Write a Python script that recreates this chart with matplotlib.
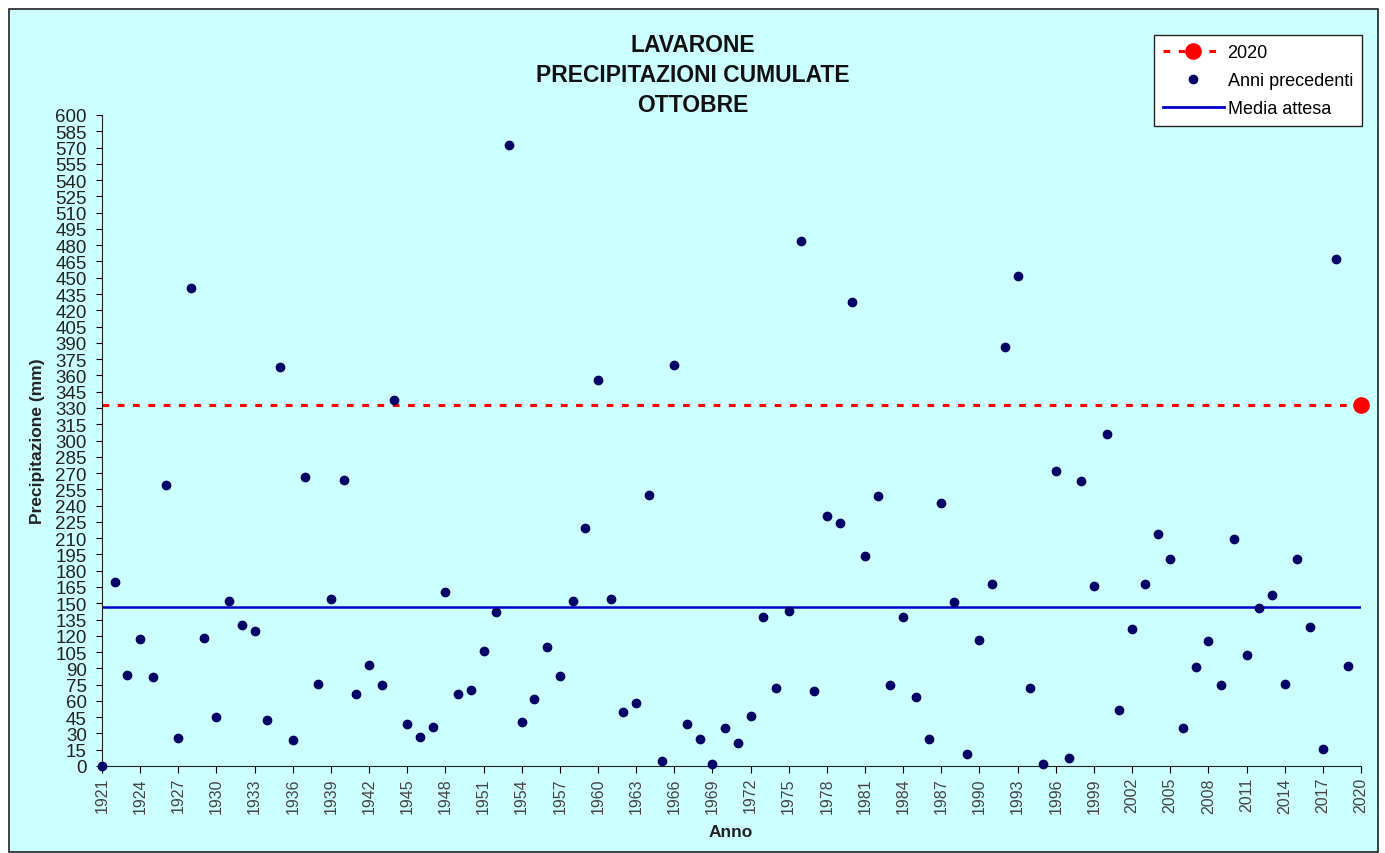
import matplotlib
matplotlib.use('Agg')
import matplotlib.pyplot as plt
from matplotlib.patches import Rectangle
from matplotlib.lines import Line2D

plt.rcParams['font.family'] = ['Liberation Sans', 'DejaVu Sans']

# October cumulative precipitation (mm), Lavarone
years = list(range(1921, 2020))
precip = [0, 170, 84, 117, 82, 259, 26, 441, 118, 45,
          152, 130, 124, 42, 368, 24, 266, 76, 154, 264,
          66, 93, 75, 337, 39, 27, 36, 160, 66, 70,
          106, 142, 572, 41, 62, 110, 83, 152, 219, 356,
          154, 50, 58, 250, 5, 370, 39, 25, 2, 35,
          21, 46, 137, 72, 143, 484, 69, 230, 224, 428,
          194, 249, 75, 137, 64, 25, 242, 151, 11, 116,
          168, 386, 452, 72, 2, 272, 7, 263, 166, 306,
          52, 126, 168, 214, 191, 35, 91, 115, 75, 209,
          102, 146, 158, 76, 191, 128, 16, 467, 92]
year_now = 2020
precip_now = 333
media = 147

W, H = 1385, 854
fig = plt.figure(figsize=(W / 100, H / 100), dpi=100)
fig.patch.set_facecolor('white')

bg = '#CCFFFF'
panel = Rectangle((9 / W, 1 - 853 / H), (1378 - 9) / W, (853 - 10) / H,
                  transform=fig.transFigure, facecolor=bg,
                  edgecolor='#222222', linewidth=1.2, zorder=-10)
fig.add_artist(panel)

ax = fig.add_axes([102 / W, 1 - 767 / H, (1361 - 102) / W, (767 - 116) / H])
ax.set_zorder(1)
ax.patch.set_alpha(0)

ax.axhline(precip_now, color='red', linewidth=2.2, linestyle=(0, (2.2, 2.8)), zorder=2)
ax.axhline(media, color='#0000CC', linewidth=1.8, zorder=2)
ax.plot(years, precip, 'o', color='#000066', markersize=6, clip_on=False, zorder=3)
ax.plot([year_now], [precip_now], 'o', color='red', markersize=11, clip_on=False, zorder=4)

ax.set_xlim(1921, 2020)
ax.set_ylim(0, 600)
ax.set_xticks(range(1921, 2021, 3))
ax.set_xticklabels([str(y) for y in range(1921, 2021, 3)], rotation=90, fontsize=11.5,
                   color='#444444')
ax.set_yticks(range(0, 601, 15))
ax.tick_params(axis='y', labelsize=13.5, length=4, pad=7, labelcolor='#222222')
ax.tick_params(axis='x', length=5, pad=3)

for s in ['top', 'right']:
    ax.spines[s].set_visible(False)
ax.spines['left'].set_color('#222222')
ax.spines['bottom'].set_color('#222222')

fig.text(38 / W, 1 - 441 / H, 'Precipitazione (mm)', rotation=90, ha='center', va='center',
         fontsize=12.5, fontweight='bold', color='#222222')
fig.text(731 / W, 1 - 833 / H, 'Anno', ha='center', va='center',
         fontsize=12.5, fontweight='bold', color='#222222')

for txt, yy in [('LAVARONE', 46), ('PRECIPITAZIONI CUMULATE', 75), ('OTTOBRE', 106)]:
    fig.text(0.5, 1 - yy / H, txt, ha='center', va='center', fontsize=16.5,
             fontweight='bold', color='#111111')

handles = [
    Line2D([], [], color='red', linewidth=2.2, linestyle=(0, (2.2, 2.8)),
           marker='o', markersize=11),
    Line2D([], [], color='#000066', linestyle='none', marker='o', markersize=6),
    Line2D([], [], color='#0000CC', linewidth=2),
]
leg = fig.legend(handles, ['2020', 'Anni precedenti', 'Media attesa'],
                 loc='upper right', bbox_to_anchor=(1362 / W, 1 - 36 / H),
                 bbox_transform=fig.transFigure, fontsize=13, frameon=True,
                 fancybox=False, edgecolor='#222222', framealpha=1,
                 borderaxespad=0, handlelength=3.4, handletextpad=0.2,
                 labelspacing=0.62, borderpad=0.5)
leg.get_frame().set_linewidth(1.0)

fig.savefig('out.png', dpi=100, facecolor='white')
